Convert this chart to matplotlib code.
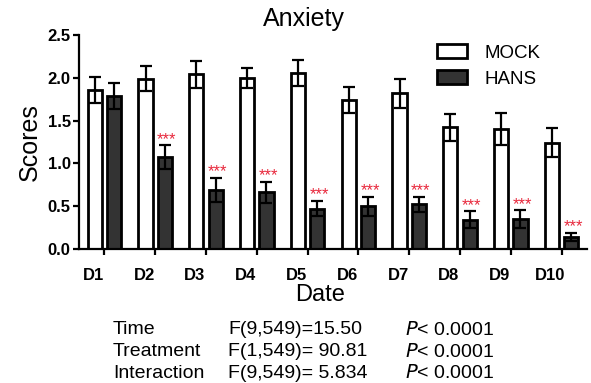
import matplotlib
matplotlib.use("Agg")
import matplotlib.pyplot as plt
import numpy as np

plt.rcParams['font.family'] = ['Liberation Sans', 'DejaVu Sans']

days = ['D1', 'D2', 'D3', 'D4', 'D5', 'D6', 'D7', 'D8', 'D9', 'D10']
mock = [1.86, 1.99, 2.04, 2.00, 2.06, 1.74, 1.82, 1.42, 1.40, 1.24]
mock_err = [0.15, 0.15, 0.16, 0.12, 0.15, 0.15, 0.17, 0.16, 0.19, 0.17]
hans = [1.79, 1.07, 0.69, 0.66, 0.47, 0.50, 0.52, 0.34, 0.35, 0.14]
hans_err = [0.15, 0.14, 0.14, 0.12, 0.09, 0.11, 0.09, 0.10, 0.10, 0.05]
signif = ['', '***', '***', '***', '***', '***', '***', '***', '***', '***']

stats_rows = ['Time', 'Treatment', 'Interaction']
stats_f = ['F(9,549)=15.50', 'F(1,549)= 90.81', 'F(9,549)= 5.834']
stats_p = ['< 0.0001', '< 0.0001', '< 0.0001']

fig = plt.figure(figsize=(5.91, 3.83), dpi=100)
ax = fig.add_axes([0.1337, 0.3499, 0.8596, 0.5587])

x = np.arange(len(days))
w = 0.28
off = 0.19
ekw = dict(elinewidth=1.6, capthick=1.6, ecolor='black')

ax.bar(x - off, mock, w, yerr=mock_err, color='white', edgecolor='black',
       linewidth=2.0, capsize=4, error_kw=ekw, label='MOCK')
ax.bar(x + off, hans, w, yerr=hans_err, color='#333333', edgecolor='black',
       linewidth=2.0, capsize=4, error_kw=ekw, label='HANS')

# significance stars above the HANS bars
for i in range(len(days)):
    if signif[i]:
        ax.annotate(signif[i], (x[i] + off, hans[i] + hans_err[i]),
                    xytext=(1.5, -1), textcoords='offset points',
                    ha='center', va='bottom', color='#e8283c', fontsize=12)

ax.set_xlim(-0.5, 9.5)
ax.set_ylim(0, 2.5)
ax.set_yticks([0, 0.5, 1.0, 1.5, 2.0, 2.5])
ax.set_yticklabels(['0.0', '0.5', '1.0', '1.5', '2.0', '2.5'],
                   fontweight='bold', fontsize=12)
ax.set_xticks(x)
ax.set_xticklabels([])
# day labels sit a little left of their ticks
for i in range(len(days)):
    ax.annotate(days[i], (x[i], 0), xycoords=('data', 'axes fraction'),
                xytext=(-8, -19), textcoords='offset points',
                ha='center', va='center', fontweight='bold', fontsize=12)

ax.spines['top'].set_visible(False)
ax.spines['right'].set_visible(False)
ax.spines['left'].set_linewidth(1.6)
ax.spines['bottom'].set_linewidth(1.6)
ax.tick_params(axis='both', width=1.6, length=4, direction='out')
ax.tick_params(axis='y', pad=2)

ax.set_ylabel('Scores', fontsize=18, labelpad=4)

fig.text(304 / 591, 1 - 19 / 383, 'Anxiety', ha='center', va='center', fontsize=18)
fig.text(320 / 591, 1 - 295 / 383, 'Date', ha='center', va='center', fontsize=17)

ax.legend(loc='upper left', bbox_to_anchor=(0.672, 1.035), frameon=False,
          fontsize=13.5, handlelength=1.6, handleheight=0.75, handletextpad=0.9,
          labelspacing=0.45)

row_y = [330, 352, 373]
for i in range(len(stats_rows)):
    yy = 1 - row_y[i] / 383
    fig.text(113 / 591, yy, stats_rows[i], ha='left', va='center', fontsize=14)
    fig.text(228 / 591, yy, stats_f[i], ha='left', va='center', fontsize=14)
    fig.text(405 / 591, yy, r'$\it{P}$' + stats_p[i], ha='left', va='center', fontsize=14)

fig.savefig('out.png', dpi=100)
